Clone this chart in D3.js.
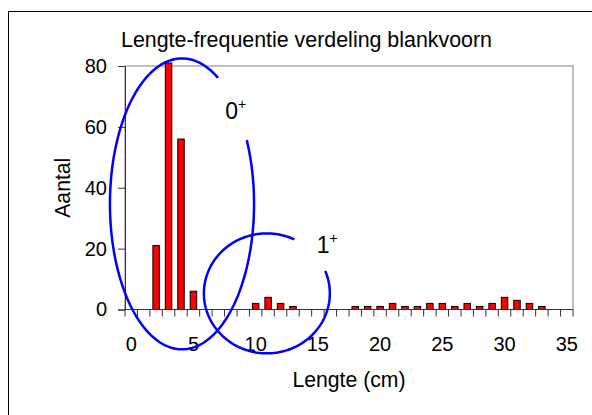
<!DOCTYPE html>
<html><head><meta charset="utf-8">
<script src="https://cdn.jsdelivr.net/npm/d3@7"></script>
<style>
html,body{margin:0;padding:0;background:#fff;}
text{font-family:"Liberation Sans",Arial,sans-serif;fill:#000;}
</style></head>
<body><svg id="c" width="592" height="415"></svg>
<script>
// ---- data ----
const lengths = d3.range(0, 36); // categories: length in cm
const counts = [0,0,21,81,56,6,0,0,0,0,2,4,2,1,0,0,0,0,1,1,1,2,1,1,2,2,1,2,1,2,4,3,2,1,0,0];
const xTickLabels = [0,5,10,15,20,25,30,35];
const yTicks = [0,20,40,60,80];
const title = "Lengte-frequentie verdeling blankvoorn";
const xTitle = "Lengte (cm)";
const yTitle = "Aantal";
// annotation ellipses in data units (x: cm along category axis, y: count)
const groups = [
  {label:"0", cx:4.58, cy:34.7, rx:5.79, ry:47.8, gapFrom:-59, gapTo:-26, lx:8.05, ly:62.5},
  {label:"1", cx:11.4, cy:5.3, rx:5.06, ry:19.7, gapFrom:-64, gapTo:-22, lx:15.4, ly:18.5}
];

const svg = d3.select("#c");
const pL = 125, pR = 573, pT = 66, pB = 309.5;

const x = d3.scaleBand().domain(lengths).range([pL, pR]).paddingInner(0.48).paddingOuter(0.24);
const xLin = d3.scaleLinear().domain([0, 36]).range([pL, pR]);
const y = d3.scaleLinear().domain([0, 80]).range([pB, pT]);

// outer chart frame
svg.append("rect").attr("x", 8.5).attr("y", 11.5).attr("width", 600).attr("height", 420)
  .attr("fill", "#fff").attr("stroke", "#000").attr("stroke-width", 1);

// plot area border
svg.append("rect").attr("x", pL).attr("y", pT).attr("width", pR - pL).attr("height", pB - pT)
  .attr("fill", "none").attr("stroke", "#808080").attr("stroke-width", 1);

// bars
svg.append("g").selectAll("rect").data(counts).join("rect")
  .attr("x", (d, i) => x(lengths[i]))
  .attr("y", d => y(d))
  .attr("width", x.bandwidth())
  .attr("height", d => y(0) - y(d))
  .attr("fill", "#ff0000").attr("stroke", "#000").attr("stroke-width", 1)
  .attr("display", d => d > 0 ? null : "none");

// y axis
const ya = svg.append("g").attr("transform", `translate(${pL},0)`)
  .call(d3.axisLeft(y).tickValues(yTicks).tickSize(7).tickPadding(11));
ya.select(".domain").attr("stroke", "#333");
ya.selectAll("line").attr("stroke", "#333");
ya.selectAll("text").attr("font-size", null).style("font-size", "20px").attr("fill", "#000");

// x axis: ticks at category boundaries
const xg = svg.append("g");
xg.append("line").attr("x1", pL).attr("x2", pR).attr("y1", pB).attr("y2", pB).attr("stroke", "#333");
xg.selectAll("line.t").data(d3.range(0, 37)).join("line").attr("class", "t")
  .attr("x1", d => xLin(d)).attr("x2", d => xLin(d))
  .attr("y1", pB).attr("y2", pB + 7).attr("stroke", "#333");
xg.selectAll("text").data(xTickLabels).join("text")
  .attr("x", d => x(d) + x.bandwidth() / 2).attr("y", 350.5)
  .attr("text-anchor", "middle").style("font-size", "20px").text(d => d);

// titles
svg.append("text").attr("x", 306.5).attr("y", 46.5).attr("text-anchor", "middle")
  .style("font-size", "21.4px").text(title);
svg.append("text").attr("x", (pL + pR) / 2).attr("y", 386.5).attr("text-anchor", "middle")
  .style("font-size", "21.2px").text(xTitle);
svg.append("text").attr("transform", `translate(70,${(pT + pB) / 2}) rotate(-90)`)
  .attr("text-anchor", "middle").style("font-size", "21.2px").text(yTitle);

// annotation ellipses with gaps
const rad = Math.PI / 180;
groups.forEach(g => {
  const cx = xLin(g.cx), cy = y(g.cy);
  const rx = xLin(g.rx) - xLin(0), ry = y(0) - y(g.ry);
  const pts = d3.range(g.gapTo, 360 + g.gapFrom + 0.5, 2).map(a =>
    [cx + rx * Math.cos(a * rad), cy + ry * Math.sin(a * rad)]);
  svg.append("path").attr("d", d3.line()(pts)).attr("fill", "none")
    .attr("stroke", "#0000ff").attr("stroke-width", 2.5);
  const t = svg.append("text").attr("x", xLin(g.lx)).attr("y", y(g.ly));
  t.append("tspan").style("font-size", "23px").text(g.label);
  t.append("tspan").attr("dy", -10).style("font-size", "14px").text("+");
});
</script></body></html>
